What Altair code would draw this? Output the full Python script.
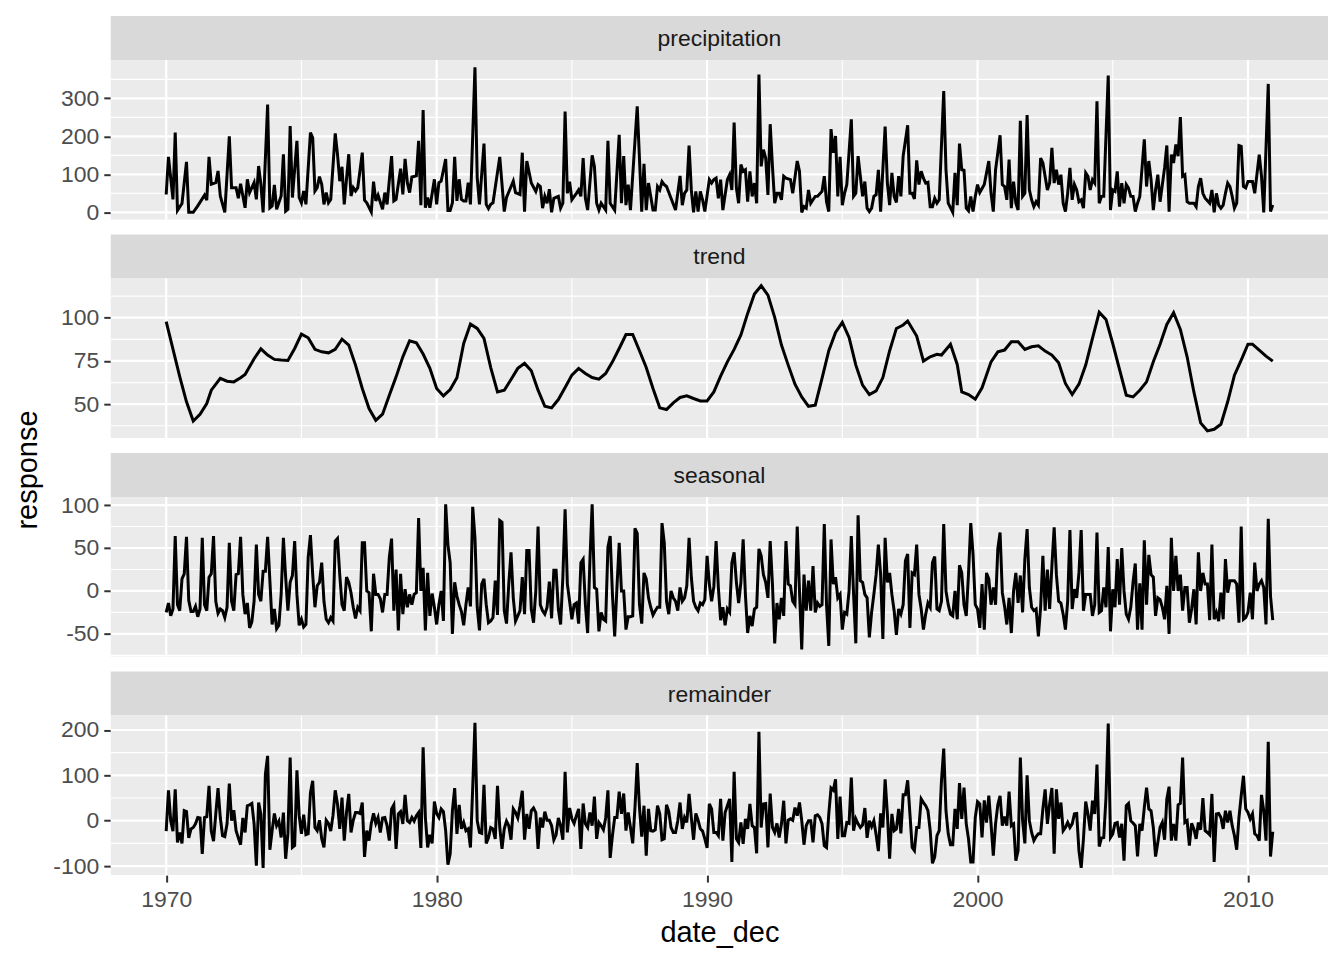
import altair as alt
import numpy as np
import pandas as pd

FONT = "Liberation Sans"
W, PANEL_H, STRIP_H, GAP = 1220, 160, 44, 15
X_DOMAIN = [1967.95, 2012.96]

# (month index since Jan 1970, value)
precip_points = [
    (0, 47), (1, 146), (3, 34), (4, 210), (5, 5), (7, 23), (9, 133), (10, 0), (12, 0), (14, 17),
    (17, 45), (18, 32), (19, 146), (20, 74), (22, 78), (23, 109), (24, 43), (26, 0), (28, 200),
    (29, 65), (31, 65), (32, 37), (33, 75), (35, 12), (36, 87), (37, 52), (39, 78), (40, 34),
    (41, 122), (42, 74), (43, 0), (45, 284), (46, 12), (47, 17), (48, 72), (49, 8), (51, 43),
    (52, 153), (53, 3), (54, 8), (55, 227), (56, 39), (58, 188), (59, 39), (60, 25), (61, 56),
    (62, 21), (64, 210), (65, 196), (66, 56), (67, 65), (68, 94), (69, 74), (70, 21), (71, 52),
    (72, 25), (73, 34), (75, 208), (76, 153), (77, 82), (78, 120), (79, 21), (81, 153), (82, 43),
    (83, 65), (84, 56), (85, 65), (87, 157), (88, 32), (89, 25), (91, 1), (92, 81), (93, 30),
    (94, 45), (96, 8), (97, 52), (98, 21), (100, 148), (101, 30), (102, 34), (104, 115), (105, 47),
    (106, 141), (107, 78), (108, 52), (109, 93), (111, 96), (112, 188), (113, 19), (114, 269),
    (115, 12), (116, 39), (117, 12), (119, 87), (120, 21), (121, 78), (122, 82), (124, 140),
    (125, 5), (126, 5), (127, 25), (128, 146), (129, 30), (130, 87), (131, 34), (132, 30),
    (133, 30), (134, 78), (135, 21), (137, 382), (138, 91), (139, 21), (141, 181), (142, 21),
    (143, 10), (144, 21), (145, 25), (148, 146), (150, 2), (151, 39), (154, 82), (155, 52),
    (157, 47), (158, 157), (159, 2), (160, 135), (162, 77), (164, 55), (165, 73), (166, 68),
    (167, 11), (168, 42), (169, 24), (170, 61), (171, 0), (172, 37), (174, 42), (175, 11),
    (176, 24), (177, 265), (178, 50), (179, 81), (180, 33), (182, 50), (183, 59), (184, 42),
    (185, 143), (186, 37), (187, 6), (189, 150), (190, 121), (191, 24), (192, 6), (193, 24),
    (195, 6), (196, 188), (197, 24), (199, 6), (201, 204), (202, 24), (203, 148), (204, 19),
    (205, 73), (206, 6), (209, 279), (211, 2), (212, 128), (213, 6), (214, 77), (216, 6),
    (217, 6), (218, 68), (219, 59), (220, 81), (221, 73), (222, 68), (224, 37), (226, 6),
    (228, 96), (229, 19), (230, 50), (231, 59), (232, 176), (233, 59), (234, 0), (235, 55),
    (236, 2), (237, 55), (238, 33), (239, 2), (241, 86), (242, 77), (243, 86), (244, 90),
    (245, 37), (246, 86), (247, 6), (249, 86), (250, 99), (251, 59), (252, 236), (253, 64),
    (254, 24), (255, 126), (256, 108), (257, 112), (258, 28), (259, 108), (260, 42), (261, 77),
    (262, 24), (263, 363), (264, 121), (265, 165), (266, 143), (267, 46), (268, 232), (269, 121),
    (270, 24), (271, 50), (272, 50), (273, 33), (274, 95), (275, 90), (277, 86), (278, 50),
    (280, 135), (281, 108), (282, 0), (283, 15), (284, 11), (285, 59), (286, 24), (287, 33),
    (288, 42), (289, 42), (291, 55), (292, 95), (293, 28), (294, 2), (295, 219), (296, 157),
    (297, 201), (298, 42), (299, 146), (300, 19), (301, 50), (302, 73), (304, 245), (305, 42),
    (306, 50), (307, 148), (308, 95), (309, 42), (310, 81), (311, 11), (312, 2), (313, 11),
    (314, 42), (315, 46), (316, 112), (317, 2), (319, 226), (320, 77), (321, 19), (322, 104),
    (323, 42), (324, 26), (325, 95), (326, 42), (327, 148), (329, 229), (330, 50), (331, 50),
    (332, 35), (333, 137), (334, 73), (335, 108), (336, 90), (337, 77), (338, 79), (339, 15),
    (340, 15), (341, 37), (342, 24), (343, 33), (345, 319), (346, 112), (347, 24), (349, 0),
    (350, 104), (351, 19), (352, 181), (353, 112), (354, 111), (355, 11), (356, 4), (357, 42),
    (358, 2), (359, 42), (360, 73), (361, 52), (363, 73), (365, 135), (366, 50), (367, 2),
    (368, 112), (369, 157), (370, 203), (371, 73), (372, 68), (373, 33), (374, 139), (375, 11),
    (376, 81), (377, 24), (378, 6), (379, 241), (380, 42), (381, 50), (382, 256), (383, 59),
    (384, 33), (385, 15), (386, 28), (387, 19), (388, 143), (389, 130), (391, 59), (392, 77),
    (393, 170), (394, 77), (395, 112), (396, 73), (397, 99), (398, 24), (399, 2), (400, 50),
    (401, 117), (402, 33), (403, 73), (404, 59), (405, 28), (406, 33), (407, 11), (408, 104),
    (409, 95), (410, 59), (411, 86), (412, 77), (413, 292), (414, 24), (415, 42), (416, 42),
    (418, 360), (419, 6), (420, 59), (421, 55), (422, 108), (423, 15), (424, 77), (425, 24),
    (426, 73), (427, 64), (428, 42), (429, 42), (430, 2), (431, 24), (432, 42), (434, 192),
    (435, 68), (436, 135), (437, 86), (438, 6), (439, 59), (440, 99), (441, 28), (443, 117),
    (444, 176), (445, 2), (446, 152), (447, 130), (448, 179), (449, 148), (450, 251), (451, 95),
    (452, 99), (453, 28), (454, 24), (456, 24), (457, 15), (458, 68), (459, 90), (460, 50),
    (461, 37), (463, 24), (464, 59), (465, 0), (466, 50), (467, 19), (468, 11), (469, 19),
    (470, 50), (471, 77), (472, 68), (473, 42), (474, 11), (475, 24), (476, 176), (477, 174),
    (478, 68), (479, 64), (480, 81), (481, 81), (482, 81), (483, 50), (485, 152), (486, 95),
    (487, 0), (489, 338), (490, 2), (491, 19),
]

trend_points = [
    (0, 97.7), (6, 66), (9, 51.4), (12, 40.3), (15, 44.2), (18, 50.4), (20, 58.1), (24, 64.9),
    (27, 63.3), (30, 62.9), (33, 65.3), (35, 67.2), (39, 76.3), (42, 82.0), (45, 78.4),
    (48, 75.9), (51, 75.5), (54, 75.3), (57, 82.2), (60, 90.5), (63, 88.4), (66, 81.7),
    (69, 80.3), (72, 79.7), (75, 81.7), (78, 87.6), (81, 84.2), (84, 72.6), (87, 59.1),
    (90, 47.5), (93, 40.7), (96, 44.2), (99, 55.2), (102, 65.8), (105, 77.4), (108, 86.7),
    (111, 85.5), (114, 79.0), (117, 70.7), (120, 59.1), (123, 54.8), (126, 58.5), (129, 65.3),
    (132, 85.1), (135, 96.3), (138, 93.8), (141, 88.0), (144, 71.2), (147, 57.1), (150, 58.1),
    (153, 64.3), (156, 70.7), (159, 73.6), (162, 69.3), (165, 58.1), (168, 48.8), (171, 47.9),
    (174, 52.7), (177, 59.7), (180, 66.8), (183, 70.7), (186, 67.8), (189, 65.4), (192, 64.5),
    (195, 67.8), (198, 74.5), (201, 82.2), (204, 90.3), (207, 90.3), (210, 80.9), (213, 71.2),
    (216, 59.1), (219, 47.9), (222, 46.9), (225, 50.8), (228, 53.9), (231, 54.8), (234, 53.3),
    (237, 51.9), (240, 51.9), (243, 57.1), (246, 66.2), (249, 74.5), (252, 81.7), (255, 90.0),
    (258, 102.5), (261, 113.7), (264, 118.5), (267, 113.1), (270, 100.2), (273, 84.2),
    (276, 72.6), (279, 61.6), (282, 54.2), (285, 48.8), (288, 49.4), (291, 64.9), (294, 80.9),
    (297, 91.5), (300, 97.3), (303, 88.6), (306, 72.6), (309, 61.0), (312, 55.6), (315, 57.7),
    (318, 65.4), (321, 80.9), (324, 93.8), (327, 95.8), (329, 98.1), (333, 89.4), (336, 74.9),
    (339, 77.4), (342, 78.8), (344, 78.4), (348, 84.7), (351, 73.0), (353, 57.1), (356, 55.6),
    (359, 52.9), (362, 59.5), (366, 74.5), (369, 80.3), (372, 81.3), (375, 86.1), (378, 86.1),
    (381, 81.7), (384, 83.2), (387, 83.8), (390, 80.7), (393, 78.4), (396, 73.9), (399, 62.0),
    (402, 55.6), (405, 61.6), (408, 72.6), (411, 88.0), (414, 103.1), (417, 99.0), (420, 85.1),
    (423, 70.1), (426, 55.2), (429, 54.2), (432, 58.1), (435, 62.9), (438, 74.5), (441, 84.6),
    (444, 96.1), (447, 102.9), (450, 93.2), (453, 77.4), (456, 57.1), (459, 39.2), (462, 34.6),
    (465, 35.5), (468, 38.4), (471, 51.4), (474, 66.8), (477, 75.5), (480, 84.7), (482, 84.7),
    (485, 81.3), (488, 77.8), (491, 74.9),
]

# monthly, Jan 1970 .. Dec 2010
seasonal = [
    -25, -14, -29, -21, 64, -16, -23, 14, 20, 63, -11, -24,
    -24, -18, -30, -21, 62, -16, -23, 16, 20, 64, -12, -26,
    -21, -23, -31, -19, 56, -12, -23, 19, 20, 63, -4, -27,
    -14, -43, -36, -12, 54, -4, -12, 23, 23, 63, 12, -39,
    -21, -44, -40, -4, 62, 16, -23, 10, 18, 58, -4, -40,
    -33, -42, -39, 39, 65, 19, -19, 6, 10, 33, -12, -33,
    -37, -31, -35, 58, 61, 19, -16, -23, 16, 10, -2, -19,
    -32, -19, -23, 56, 56, 0, -2, -47, 20, -4, -4, -9,
    -25, -4, -4, 39, 61, -23, 25, -46, 20, -27, 2, -19,
    -4, -16, -4, -2, 85, 0, 27, -46, 21, -29, -3, -19,
    -39, -16, 0, -35, 101, 54, 33, -50, 10, -6, -16, -24,
    -40, -16, 4, -18, 98, 62, -19, -46, 8, 14, -16, -37,
    -35, -31, 12, -28, 82, 80, -23, -38, 8, 45, -8, -35,
    -29, -23, 16, -27, 47, 47, -21, -37, 0, 75, -16, -23,
    -27, -19, 11, -32, 24, 24, -21, -39, 16, 95, 8, -12,
    -33, -16, -14, -38, 33, 37, -16, -49, 35, 101, 4, 2,
    -47, -25, -33, -35, 51, 64, -4, -53, 4, 56, 0, 0,
    -45, -30, -30, -29, 73, 67, -16, -38, 21, 14, -8, -19,
    -28, -23, -19, -19, 79, 56, -12, -27, 0, -8, -12, -23,
    4, -12, -8, 6, 62, 16, -12, -19, -23, -14, -16, -10,
    41, 8, -12, 5, 58, 4, -34, -19, -40, -21, -25, 33,
    45, 10, -14, 10, 60, -4, -49, -29, -41, -21, -19, 49,
    41, 19, 10, -8, 58, 8, -61, -14, -33, -8, -29, 58,
    8, 6, -12, -16, 75, 0, -68, 19, -23, 12, -23, 29,
    -25, -14, -18, -16, 78, -16, -64, 60, 8, 16, -8, -4,
    -45, -25, -27, 0, 64, -4, -61, 88, 12, 10, -4, -8,
    -54, -25, -4, 19, 54, 19, -56, 62, 10, 21, -4, -23,
    -51, -21, -27, -16, 35, 43, -43, 21, 19, 54, -4, -21,
    -45, -27, -14, -19, 33, 40, -21, -23, -12, 78, 0, -16,
    -27, -29, 0, -33, 30, 21, -16, -29, 20, 79, 43, -16,
    -21, -43, 8, -45, 21, 14, -16, 4, -16, 49, 68, -2,
    -18, -39, -8, -49, 0, 21, -14, 18, -25, 37, 72, 4,
    -19, -23, -21, -53, -19, 41, -23, 25, -21, 29, 74, 19,
    -12, -14, -27, -45, -12, 71, -21, 2, -8, 21, 71, -23,
    -4, -4, -4, -29, -16, 68, -25, -23, 4, -19, 51, -47,
    2, -19, 37, -16, 50, 0, -27, -33, -19, 10, 32, -45,
    9, -45, 59, -16, 42, 19, 16, -29, -8, -10, -19, -33,
    6, -50, 62, 0, 41, 0, 19, -23, 4, 4, -37, -21,
    2, -39, 45, 0, 21, 8, 8, -34, 54, -33, -25, -35,
    -2, -33, 37, -2, 12, 12, 12, 8, -37, 75, -33, -31,
    -25, -2, -33, 33, 0, 8, 12, 4, -39, 84, -6, -34,
]

remainder = [
    -23, 67, 0, -23, 69, -48, -26, -50, 22, 20, -38, -18,
    -15, -7, 7, 6, -73, 7, 9, 77, -23, -45, 15, 72,
    7, -33, -35, -7, 82, 0, 23, -22, -38, -53, 6, -26,
    33, 35, 38, -7, -99, 40, 15, -104, 102, 143, -64, -22,
    16, -11, -1, -37, 18, -84, -28, 139, -59, -55, 111, 11,
    -29, 13, -31, -29, 62, 88, -15, -22, 1, -40, -59, 1,
    -6, -23, 11, 67, 37, -18, 51, -44, 18, 59, -26, 1,
    18, 18, 16, 40, -80, -22, -44, -6, 16, -6, 7, -26,
    6, 7, -11, -44, 26, 35, -62, 15, 20, -7, 57, 0,
    -4, 7, -1, 11, 18, -60, 162, 7, -59, -31, -50, 42,
    16, 7, 26, 20, -22, -97, -73, 22, 72, -29, 35, -18,
    -4, -22, -18, -59, 73, 216, 0, -26, -28, 79, -50, -38,
    -15, -18, -40, 77, -15, -62, -18, -1, -11, -42, 26, 18,
    6, 33, 66, -42, 15, -18, 22, 28, 18, -62, 7, -15,
    20, 1, 1, -11, -42, -31, 6, -11, -42, 108, -26, 28,
    4, -6, 11, 26, -62, 38, -7, -15, 18, -11, 53, -40,
    -4, -11, -20, 6, 67, -82, -33, 7, 7, 64, 15, 60,
    -22, 18, -15, -50, 29, 127, 29, -35, 33, -77, 26, -22,
    -23, -20, 33, 15, -42, -40, 35, 20, -15, -26, -26, 0,
    40, -18, 7, -4, 59, 7, -42, 16, 1, -18, -23, -40,
    -60, 37, 26, -26, -26, -33, 48, -44, 18, 33, 48, -91,
    108, -40, -48, -4, -51, 4, -18, 37, -11, -15, -72, 196,
    -15, 37, 38, -59, 60, -15, -26, -6, -37, -7, 44, -50,
    1, 4, 1, 29, 11, 40, 0, -53, -11, 0, 0, -48,
    11, 13, 7, -7, -55, -59, 15, 72, 67, 91, -40, 53,
    -33, -33, -4, -6, 95, -22, 4, -7, -15, -9, 28, -38,
    0, -13, 0, -31, -67, 16, -15, 91, 15, -84, 15, -22,
    -18, 26, -28, 57, 57, 89, 15, -59, -66, -15, -15, 48,
    40, 33, 22, -22, -94, -80, -33, -22, 88, 159, 22, -29,
    -53, -53, 26, -18, 83, 4, 73, -7, -40, -91, -91, 7,
    42, 37, -37, 45, -4, 55, -7, -77, -7, 35, 55, -11,
    9, -11, 64, -11, -7, -88, -66, 139, 0, -50, 100, 0,
    -26, -44, -35, -29, -29, 26, 69, -7, 37, 72, -73, 69,
    4, 40, -22, -15, -4, -15, -7, 15, 16, -66, -104, -40,
    42, 15, -22, 44, 15, 124, -57, -38, -37, 51, 214, -37,
    -29, -6, -4, -37, -7, -88, 33, 38, 0, -5, -11, -79,
    -7, -22, 29, 73, 26, 22, -15, -79, -48, -15, -4, -42,
    48, 75, -44, -7, -44, 35, 38, 139, -4, 0, -55, -6,
    -18, -40, -4, -20, 50, -22, -26, -31, 59, -91, 15, 16,
    7, -18, 22, -4, 22, -11, -33, -64, 7, 55, 99, 26,
    18, 4, 15, -29, -33, -44, 57, 22, -44, 174, -79, -24,
]

x_breaks = [1970, 1980, 1990, 2000, 2010]
x_minor = [1975, 1985, 1995, 2005]

panels = [
    ("precipitation", [0, 100, 200, 300], [50, 150, 250, 350]),
    ("trend", [50, 75, 100], [37.5, 62.5, 87.5, 112.5]),
    ("seasonal", [-50, 0, 50, 100], [-75, -25, 25, 75]),
    ("remainder", [-100, 0, 100, 200], [-50, 50, 150]),
]


def series_frame(name):
    if name == "precipitation":
        month, value = zip(*precip_points)
    elif name == "trend":
        month, value = zip(*trend_points)
    else:
        value = seasonal if name == "seasonal" else remainder
        month = range(len(value))
    return pd.DataFrame({"date_dec": 1970 + np.array(month) / 12, "response": value})


def create_strip(label, top_gap):
    """Grey facet strip with the panel name (and the white gap above it)"""
    base = alt.Chart(pd.DataFrame({"label": [label]}))
    box = base.mark_rect(color="#D9D9D9").encode(
        x=alt.value(0), x2=alt.value(W), y=alt.value(top_gap), y2=alt.value(top_gap + STRIP_H)
    )
    text = base.mark_text(font=FONT, fontSize=23, color="#1A1A1A").encode(
        text="label:N", x=alt.value(W / 2), y=alt.value(top_gap + STRIP_H / 2 + 1)
    )
    return (box + text).properties(width=W, height=top_gap + STRIP_H)


def create_panel(name, y_breaks, y_minor, bottom):
    """Line panel in ggplot grey style"""
    df = series_frame(name)
    lo, hi = df["response"].min(), df["response"].max()
    pad = (hi - lo) * 0.05
    y_domain = [float(lo - pad), float(hi + pad)]
    x_scale = alt.Scale(domain=X_DOMAIN, nice=False, zero=False)
    y_scale = alt.Scale(domain=y_domain, nice=False, zero=False)
    y_minor = [v for v in y_minor if y_domain[0] < v < y_domain[1]]

    tick_style = dict(
        labelFont=FONT, labelFontSize=23, labelColor="#4D4D4D", tickColor="#333333",
        tickSize=7, tickWidth=2, domain=False, grid=False,
    )
    if bottom:
        x_axis = alt.Axis(
            values=x_breaks, format="d", title="date_dec", labelPadding=6,
            titleFont=FONT, titleFontSize=29, titleFontWeight="normal",
            titleColor="black", titlePadding=8, **tick_style)
    else:
        x_axis = None
    y_axis = alt.Axis(values=y_breaks, labelPadding=5, title=None,
                      labelExpr="datum.value + ''", **tick_style)

    background = alt.Chart(pd.DataFrame({"panel": [name]})).mark_rect(color="#EBEBEB").encode(
        x=alt.value(0), x2=alt.value(W), y=alt.value(0), y2=alt.value(PANEL_H))
    grid_minor_x = alt.Chart(pd.DataFrame({"date_dec": x_minor})).mark_rule(
        color="white", strokeWidth=1.1).encode(
        x=alt.X("date_dec:Q", scale=x_scale, axis=x_axis))
    grid_major_x = alt.Chart(pd.DataFrame({"date_dec": x_breaks})).mark_rule(
        color="white", strokeWidth=2.2).encode(
        x=alt.X("date_dec:Q", scale=x_scale, axis=x_axis))
    grid_minor_y = alt.Chart(pd.DataFrame({"response": y_minor})).mark_rule(
        color="white", strokeWidth=1.1).encode(
        y=alt.Y("response:Q", scale=y_scale, axis=y_axis))
    grid_major_y = alt.Chart(pd.DataFrame({"response": y_breaks})).mark_rule(
        color="white", strokeWidth=2.2).encode(
        y=alt.Y("response:Q", scale=y_scale, axis=y_axis))

    line = alt.Chart(df).mark_line(color="black", strokeWidth=3).encode(
        x=alt.X("date_dec:Q", scale=x_scale, axis=x_axis),
        y=alt.Y("response:Q", scale=y_scale, axis=y_axis),
    )
    return alt.layer(background, grid_minor_x, grid_major_x, grid_minor_y, grid_major_y,
                     line).properties(width=W, height=PANEL_H)


cells = []
for i, (name, breaks, minor) in enumerate(panels):
    cells.append(create_strip(name, 0 if i == 0 else GAP))
    cells.append(create_panel(name, breaks, minor, bottom=(i == 3)))
stack = alt.vconcat(*cells, spacing=0, bounds="flush")

# shared y title, centred like ggplot's
total_h = 4 * (STRIP_H + PANEL_H) + 3 * GAP
y_title = alt.Chart(pd.DataFrame({"t": ["response"]})).mark_text(
    font=FONT, fontSize=29, color="black", angle=270
).encode(text="t:N", x=alt.value(20), y=alt.value(455)).properties(width=44, height=total_h)

chart = alt.hconcat(y_title, stack, spacing=0).properties(
    padding={"left": 0, "top": 7, "right": 6, "bottom": 5}
).configure_view(stroke=None)

chart.save("out.html", embed_options={"renderer": "svg", "actions": False})
